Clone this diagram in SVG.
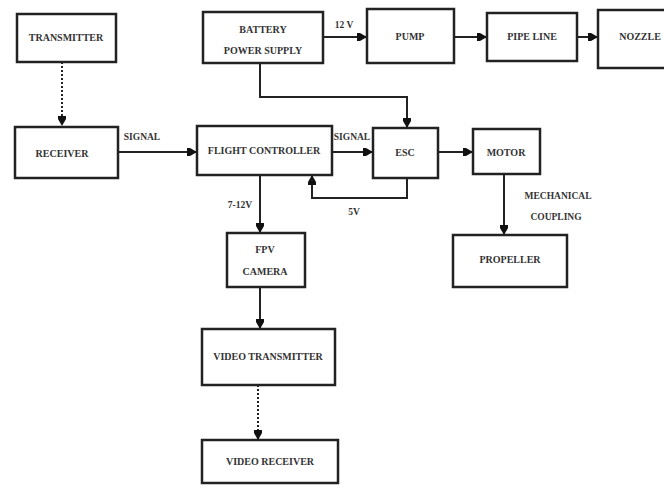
<svg xmlns="http://www.w3.org/2000/svg" width="664" height="491" viewBox="0 0 664 491">
<defs>
<style>
.box{fill:#fff;stroke:#222;stroke-width:2.5}
.ln{fill:none;stroke:#222;stroke-width:2}
.dot{fill:none;stroke:#222;stroke-width:2;stroke-dasharray:2 2}
text{font-family:"Liberation Serif","Times New Roman",serif;font-weight:bold;font-size:10px;fill:#333;text-anchor:middle}
.lbl{font-size:9.5px}
</style>
<marker id="ah" viewBox="0 0 10 10" refX="10" refY="5" markerWidth="10" markerHeight="10" markerUnits="userSpaceOnUse" orient="auto">
<path d="M0,1 L3,1 L10,5 L3,9 L0,9 z" fill="#111"/>
</marker>
</defs>
<rect width="664" height="491" fill="#fff"/>
<g id="connectors">
<path class="dot" d="M62,62 V126" marker-end="url(#ah)"/>
<path class="ln" d="M323,37 H367" marker-end="url(#ah)"/>
<path class="ln" d="M454,37 H487" marker-end="url(#ah)"/>
<path class="ln" d="M577,37 H598" marker-end="url(#ah)"/>
<path class="ln" d="M260,63 V97 H407 V128" marker-end="url(#ah)"/>
<path class="ln" d="M118,152 H197" marker-end="url(#ah)"/>
<path class="ln" d="M332,152 H373" marker-end="url(#ah)"/>
<path class="ln" d="M407,178 V198 H312 V175" marker-end="url(#ah)"/>
<path class="ln" d="M438,152 H473" marker-end="url(#ah)"/>
<path class="ln" d="M504,174 V235" marker-end="url(#ah)"/>
<path class="ln" d="M260,175 V233" marker-end="url(#ah)"/>
<path class="ln" d="M260,287 V329" marker-end="url(#ah)"/>
<path class="dot" d="M258,385 V440" marker-end="url(#ah)"/>
<text class="lbl" x="344" y="28">12 V</text>
<text class="lbl" x="142" y="140">SIGNAL</text>
<text class="lbl" x="352" y="140">SIGNAL</text>
<text class="lbl" x="354" y="215">5V</text>
<text class="lbl" x="240" y="208">7-12V</text>
<text class="lbl" x="558" y="199">MECHANICAL</text>
<text class="lbl" x="556" y="220">COUPLING</text>
</g>
<g id="transmitter"><rect class="box" x="17" y="14" width="99" height="48"/><text x="66" y="41">TRANSMITTER</text></g>
<g id="battery"><rect class="box" x="203" y="12" width="120" height="51"/><text x="263" y="33">BATTERY</text><text x="263" y="54">POWER SUPPLY</text></g>
<g id="pump"><rect class="box" x="367" y="9" width="87" height="54"/><text x="410" y="40">PUMP</text></g>
<g id="pipeline"><rect class="box" x="487" y="13" width="90" height="48"/><text x="532" y="40">PIPE LINE</text></g>
<g id="nozzle"><rect class="box" x="598" y="10" width="90" height="58"/><text x="640" y="40">NOZZLE</text></g>
<g id="receiver"><rect class="box" x="15" y="127" width="103" height="51"/><text x="62" y="157">RECEIVER</text></g>
<g id="flightcontroller"><rect class="box" x="197" y="126" width="135" height="49"/><text x="264" y="154">FLIGHT CONTROLLER</text></g>
<g id="esc"><rect class="box" x="373" y="128" width="65" height="50"/><text x="405" y="156">ESC</text></g>
<g id="motor"><rect class="box" x="473" y="129" width="67" height="45"/><text x="506" y="156">MOTOR</text></g>
<g id="propeller"><rect class="box" x="453" y="235" width="114" height="52"/><text x="510" y="263">PROPELLER</text></g>
<g id="fpvcamera"><rect class="box" x="227" y="233" width="78" height="54"/><text x="265" y="253">FPV</text><text x="265" y="275">CAMERA</text></g>
<g id="videotransmitter"><rect class="box" x="202" y="329" width="133" height="56"/><text x="268" y="360">VIDEO TRANSMITTER</text></g>
<g id="videoreceiver"><rect class="box" x="202" y="440" width="136" height="43"/><text x="270" y="465">VIDEO RECEIVER</text></g>
</svg>
